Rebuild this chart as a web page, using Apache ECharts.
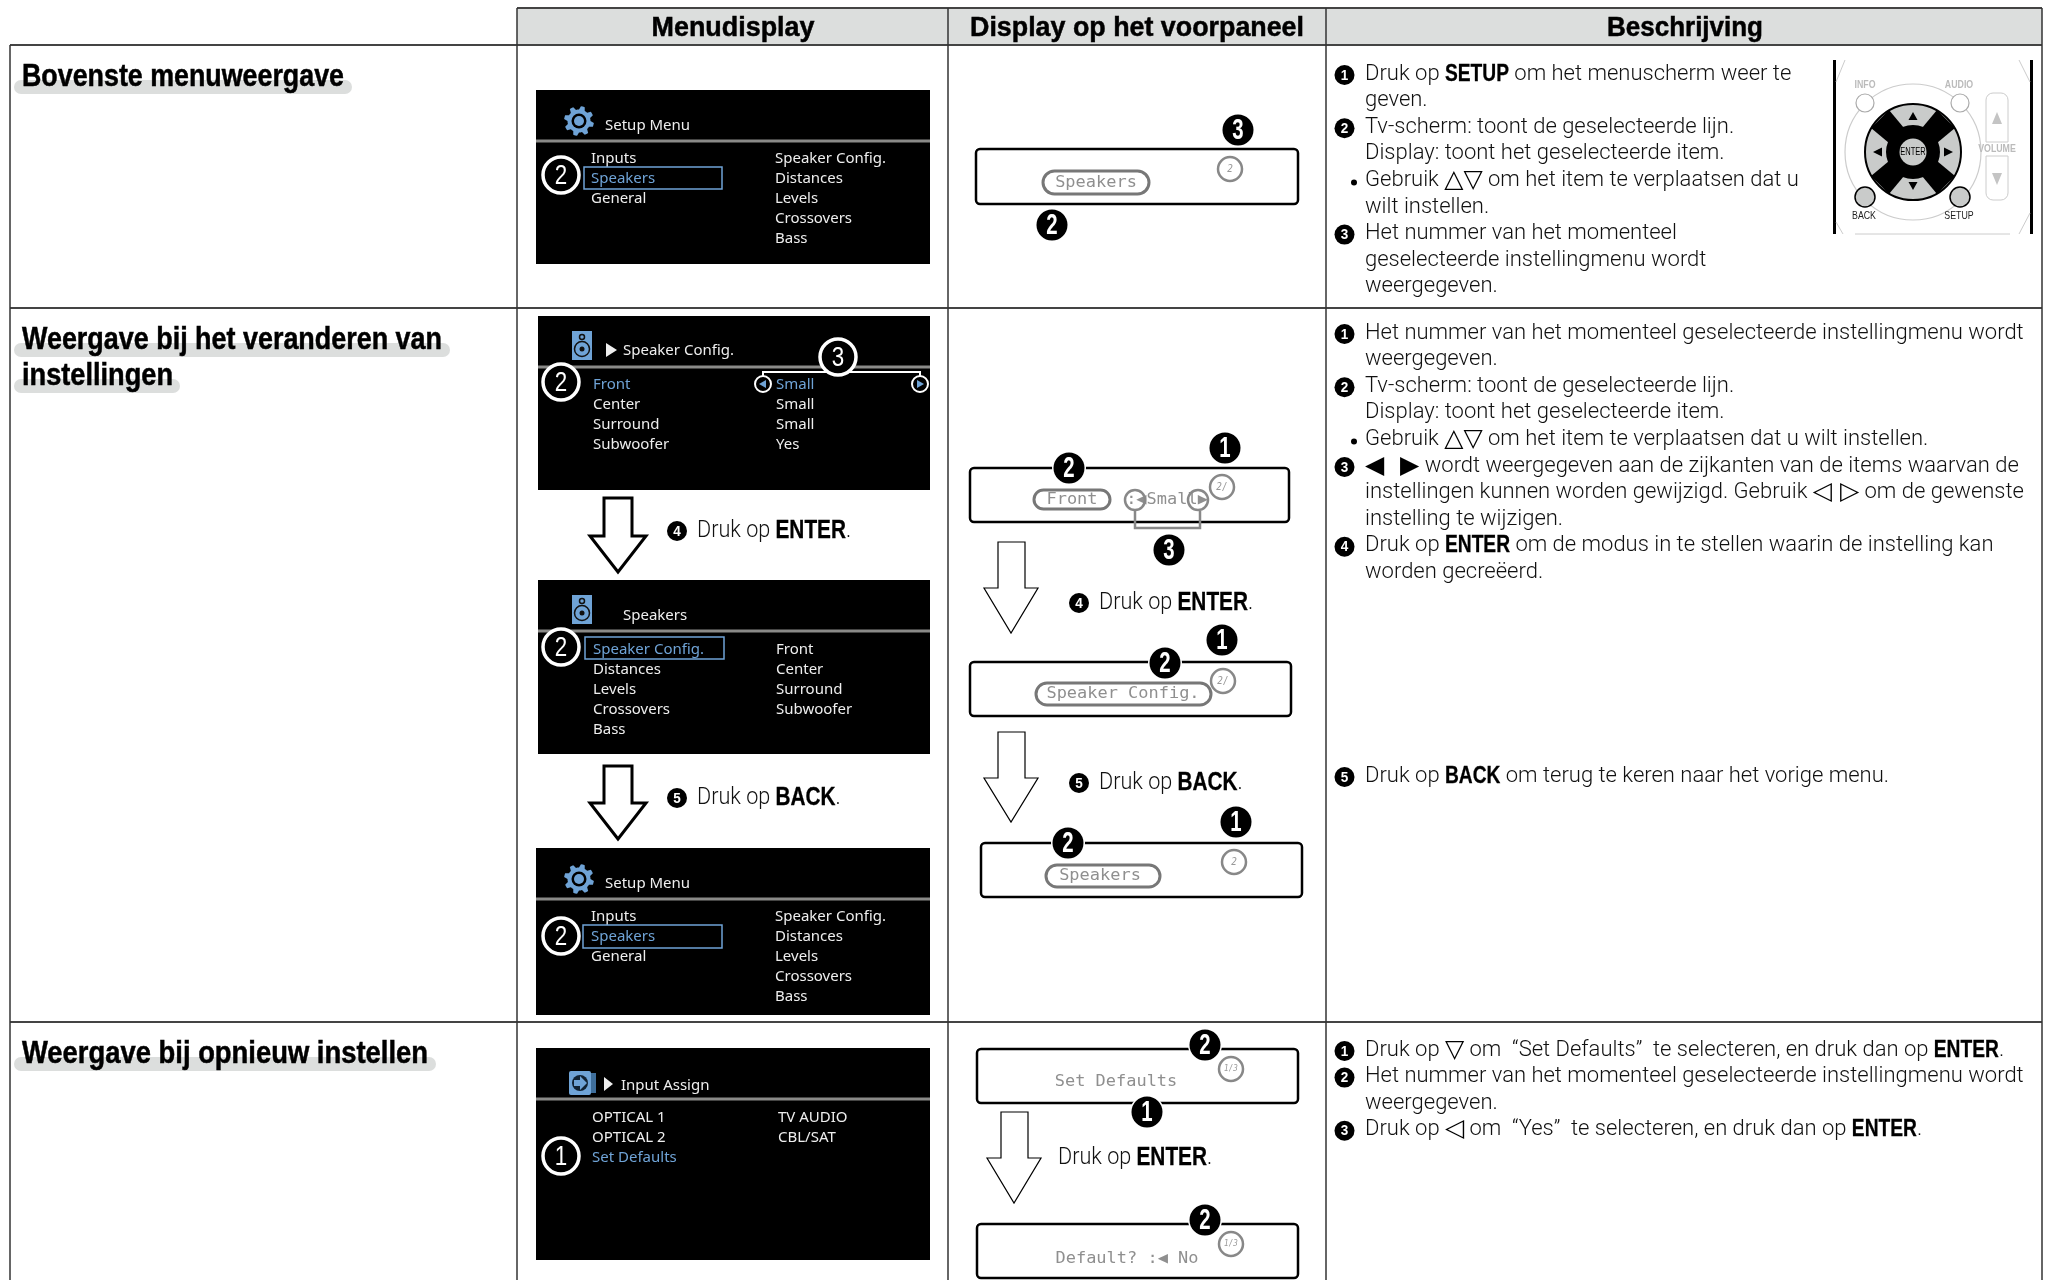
<!DOCTYPE html>
<html>
<head>
<meta charset="utf-8">
<style>html,body{margin:0;padding:0;background:#fff}#main{width:2051px;height:1280px}</style>
<script src="https://cdn.jsdelivr.net/npm/echarts@6/dist/echarts.min.js"></script>
</head>
<body>
<div id="main"></div>
<script>
// tekst van de tabel
var headers = ['Menudisplay', 'Display op het voorpaneel', 'Beschrijving'];
var rowTitle1 = ['Bovenste menuweergave'];
var rowTitle2 = ['Weergave bij het veranderen van', 'instellingen'];
var rowTitle3 = ['Weergave bij opnieuw instellen'];

var desc1 = [
	[1, 'Druk op {b|SETUP} om het menuscherm weer te'],
	[0, 'geven.'],
	[2, 'Tv-scherm: toont de geselecteerde lijn.'],
	[0, 'Display: toont het geselecteerde item.'],
	['•', 'Gebruik {s|△▽} om het item te verplaatsen dat u'],
	[0, 'wilt instellen.'],
	[3, 'Het nummer van het momenteel'],
	[0, 'geselecteerde instellingmenu wordt'],
	[0, 'weergegeven.']
];
var desc2 = [
	[1, 'Het nummer van het momenteel geselecteerde instellingmenu wordt'],
	[0, 'weergegeven.'],
	[2, 'Tv-scherm: toont de geselecteerde lijn.'],
	[0, 'Display: toont het geselecteerde item.'],
	['•', 'Gebruik {s|△▽} om het item te verplaatsen dat u wilt instellen.'],
	[3, '{s|◀  ▶} wordt weergegeven aan de zijkanten van de items waarvan de'],
	[0, 'instellingen kunnen worden gewijzigd. Gebruik {s|◁ ▷} om de gewenste'],
	[0, 'instelling te wijzigen.'],
	[4, 'Druk op {b|ENTER} om de modus in te stellen waarin de instelling kan'],
	[0, 'worden gecreëerd.']
];
var desc2b = [[5, 'Druk op {b|BACK} om terug te keren naar het vorige menu.']];
var desc3 = [
	[1, 'Druk op {s|▽} om  “Set Defaults”  te selecteren, en druk dan op {b|ENTER}.'],
	[2, 'Het nummer van het momenteel geselecteerde instellingmenu wordt'],
	[0, 'weergegeven.'],
	[3, 'Druk op {s|◁} om  “Yes”  te selecteren, en druk dan op {b|ENTER}.']
];

var setupLeft = ['Inputs', 'Speakers', 'General'];
var setupRight = ['Speaker Config.', 'Distances', 'Levels', 'Crossovers', 'Bass'];
var configLeft = ['Front', 'Center', 'Surround', 'Subwoofer'];
var configRight = ['Small', 'Small', 'Small', 'Yes'];
var speakersLeft = ['Speaker Config.', 'Distances', 'Levels', 'Crossovers', 'Bass'];
var speakersRight = ['Front', 'Center', 'Surround', 'Subwoofer'];
var assignLeft = ['OPTICAL 1', 'OPTICAL 2', 'Set Defaults'];
var assignRight = ['TV AUDIO', 'CBL/SAT'];

var BLUE = '#6fa3d6';
var BODY = 'Roboto';
var SANS = 'Liberation Sans';
var els = [];
var ctx = document.createElement('canvas').getContext('2d');

function measure(s, weight, size, font) {
	ctx.font = weight + ' ' + size + 'px "' + font + '"';
	return ctx.measureText(s).width;
}
function txt(x, y, s, o) {
	o = o || {};
	els.push({
		type: 'text', x: x, y: y, scaleX: o.sx || 1,
		style: {
			text: s,
			fontFamily: o.font || BODY, fontSize: o.size || 22, fontWeight: o.weight || 'normal',
			fontStyle: o.style || 'normal',
			fill: o.color || '#000', align: o.align || 'left', verticalAlign: 'middle',
			stroke: o.stroke || 'none', lineWidth: o.lw || 0
		}
	});
}
function rect(x0, y0, x1, y1, fill, stroke, lw, r) {
	els.push({
		type: 'rect', shape: { x: x0, y: y0, width: x1 - x0, height: y1 - y0, r: r || 0 },
		style: { fill: fill || 'none', stroke: stroke || 'none', lineWidth: lw || 1 }
	});
}
function circ(x, y, r, fill, stroke, lw) {
	els.push({
		type: 'circle', shape: { cx: x, cy: y, r: r },
		style: { fill: fill || 'none', stroke: stroke || 'none', lineWidth: lw || 1 }
	});
}
function line(pts, stroke, lw) {
	els.push({ type: 'polyline', shape: { points: pts }, style: { fill: 'none', stroke: stroke, lineWidth: lw } });
}
function poly(pts, fill, stroke, lw) {
	els.push({ type: 'polygon', shape: { points: pts }, style: { fill: fill, stroke: stroke || 'none', lineWidth: lw || 1 } });
}

// vette koppen, op breedte getrokken
function heavy(x, y, s, w, size, align) {
	txt(x, y, s, { font: SANS, size: size, weight: 'bold', align: align, sx: w / measure(s, 'bold', size, SANS), stroke: '#000', lw: 0.5 });
}
function title(lines, y, widths, bars) {
	lines.forEach(function (s, i) {
		var cy = y + i * 36;
		rect(14, cy + 3, bars[i], cy + 17, '#dcdedd', null, 0, 7);
		heavy(22, cy, s, widths[i], 31);
	});
}

function badge(x, y, n) {
	circ(x, y, 17, '#fff');
	circ(x, y, 15.5, '#000');
	txt(x, y + 1, String(n), { font: SANS, size: 30, weight: 'bold', color: '#fff', align: 'center', sx: 0.68 });
}
function smallBadge(x, y, n) {
	circ(x, y, 10, '#000');
	txt(x, y + 0.5, String(n), { font: SANS, size: 15, weight: 'bold', color: '#fff', align: 'center', sx: 0.9 });
}
function ring(x, y, n) {
	circ(x, y, 18, '#000', '#fff', 3.5);
	txt(x, y + 1, String(n), { font: SANS, size: 28, color: '#fff', align: 'center', sx: 0.8 });
}

// regel met lichte tekst, vette woorden en symbolen naast elkaar
function runs(x, y, str, size, sx) {
	str.split(/(\{[bs]\|[^}]*\})/).forEach(function (part) {
		if (!part) return;
		var m = part.match(/^\{([bs])\|(.*)\}$/);
		if (m && m[1] === 'b') {
			var bs = size + 2, bw = measure(m[2], 'bold', bs, SANS) * 0.8;
			txt(x, y, m[2], { font: SANS, size: bs, weight: 'bold', sx: 0.8, stroke: '#000', lw: 0.3 });
			x += bw;
		} else if (m) {
			var ss = size + 3, sw = measure(m[2], 'normal', ss, 'DejaVu Sans');
			txt(x, y, m[2], { font: 'DejaVu Sans', size: ss, color: '#000' });
			x += sw;
		} else {
			txt(x, y, part, { weight: 300, size: size, color: '#111', sx: sx });
			x += measure(part, '300', size, BODY) * sx;
		}
	});
}
function desc(lines, y0) {
	lines.forEach(function (l, i) {
		var y = y0 + i * 26.6;
		if (l[0] === '•') circ(1354, y + 2, 3, '#000');
		else if (l[0]) smallBadge(1344.5, y + 1, l[0]);
		runs(1365, y, l[1], 22, 1.0);
	});
}
function pressLine(x, y, n, key) {
	if (n) smallBadge(x - 20, y, n);
	runs(x, y, 'Druk op {b|' + key + '}.', 24, 0.9);
}

function gear(x, y) {
	var pts = [];
	for (var i = 0; i < 48; i++) {
		var a = i / 48 * Math.PI * 2;
		var r = (i % 6 < 3) ? 15 : 11.5;
		pts.push([x + r * Math.cos(a + 0.13), y + r * Math.sin(a + 0.13)]);
	}
	poly(pts, BLUE);
	circ(x, y, 7.5, '#000');
	circ(x, y, 5, BLUE);
}
function speakerIcon(x, y) {
	rect(x, y, x + 20, y + 29, BLUE);
	circ(x + 10, y + 6, 2.5, BLUE, '#111', 1.5);
	circ(x + 10, y + 18, 7.5, BLUE, '#111', 1.5);
	circ(x + 10, y + 18, 2.5, '#111');
}
function inputIcon(x, y) {
	rect(x + 20, y + 2, x + 27, y + 22, '#3f6f9c');
	rect(x, y, x + 22, y + 24, BLUE, null, 0, 2);
	circ(x + 11, y + 12, 8, '#123');
	poly([[x + 5, y + 9], [x + 11, y + 9], [x + 11, y + 5], [x + 18, y + 12], [x + 11, y + 19], [x + 11, y + 15], [x + 5, y + 15]], BLUE);
}
function menuText(x, y, s, blue) {
	txt(x, y + 1, s, { font: 'Noto Sans', size: 15, color: blue ? BLUE : '#eee' });
}
function screen(x0, y0, y1, lineY, leftX, rightX, rowY, left, right, sel) {
	rect(x0, y0, 930, y1, '#000');
	rect(x0, lineY - 1.5, 930, lineY + 1.5, '#8a8a88');
	left.forEach(function (s, i) { menuText(leftX, rowY + i * 20, s, i === sel); });
	right.forEach(function (s, i) { menuText(rightX, rowY + i * 20, s); });
}

function panel(x0, y0, x1, y1) {
	rect(x0, y0, x1, y1, '#fff', '#000', 2.5, 4);
}
function pill(x0, y0, x1, y1) {
	rect(x0, y0, x1, y1, '#fff', '#777', 3, (y1 - y0) / 2);
}
function dots(x, y, s) {
	txt(x, y, s, { font: 'DejaVu Sans Mono', size: 16, color: '#8f8f8f', align: 'center', sx: 1.06 });
}
function num(x, y, s) {
	circ(x, y, 12, '#fff', '#888', 2.5);
	txt(x, y, s, { font: 'DejaVu Sans Mono', size: s.length > 2 ? 9 : 11, style: 'italic', color: '#999', align: 'center', sx: 0.85 });
}
function bigArrow(yTop, yShoulder, yTip) {
	poly([[604, yTop], [632, yTop], [632, yShoulder], [646, yShoulder], [618, yTip], [590, yShoulder], [604, yShoulder]], '#fff', '#000', 3);
}
function thinArrow(dx, yTop, yShoulder, yTip) {
	poly([[998 + dx, yTop], [1025 + dx, yTop], [1025 + dx, yShoulder], [1038 + dx, yShoulder], [1011 + dx, yTip], [984 + dx, yShoulder], [998 + dx, yShoulder]], '#fff', '#000', 1.2);
}

function remote() {
	var gray = '#c9cbca';
	rect(1833, 60, 1836, 234, '#000');
	rect(2030, 60, 2033, 234, '#000');
	line([[1845, 60], [1836, 82]], '#ccc', 1);
	line([[2019, 60], [2030, 82]], '#ccc', 1);
	line([[1836, 222], [1843, 234]], '#ccc', 1);
	line([[2030, 213], [2019, 234]], '#ccc', 1);
	line([[1855, 234], [2010, 234]], '#ccc', 1);
	circ(1913, 152, 68, '#fff', '#ccc', 1.2);
	circ(1865, 103, 9, '#fff', '#aaa', 1.2);
	circ(1960, 103, 9, '#fff', '#aaa', 1.2);
	txt(1865, 85, 'INFO', { font: SANS, size: 11, weight: 'bold', color: '#bbb', align: 'center', sx: 0.8 });
	txt(1959, 85, 'AUDIO', { font: SANS, size: 11, weight: 'bold', color: '#bbb', align: 'center', sx: 0.8 });
	txt(1864, 216, 'BACK', { font: SANS, size: 11, color: '#222', align: 'center', sx: 0.8 });
	txt(1959, 216, 'SETUP', { font: SANS, size: 11, color: '#222', align: 'center', sx: 0.8 });
	rect(1986, 93, 2008, 142, '#fff', '#ccc', 1, [7, 7, 0, 0]);
	rect(1986, 156, 2008, 200, '#fff', '#ccc', 1, [0, 0, 7, 7]);
	txt(1997, 149, 'VOLUME', { font: SANS, size: 11, weight: 'bold', color: '#bbb', align: 'center', sx: 0.8 });
	poly([[1997, 112], [2002, 124], [1992, 124]], '#c4c4c4');
	poly([[1997, 185], [2002, 173], [1992, 173]], '#c4c4c4');
	circ(1913, 152, 48, gray, '#000', 2);
	// zwart kruis tussen de pijltoetsen
	[[1, 1], [1, -1], [-1, 1], [-1, -1]].forEach(function (d) {
		var cx = 1913, cy = 152;
		poly([
			[cx + d[0] * 9, cy + d[1] * 24], [cx + d[0] * 24, cy + d[1] * 42],
			[cx + d[0] * 42, cy + d[1] * 24], [cx + d[0] * 24, cy + d[1] * 9]
		], '#000');
	});
	circ(1913, 152, 27, '#000');
	circ(1913, 152, 13.5, gray);
	txt(1913, 152, 'ENTER', { font: SANS, size: 10, color: '#000', align: 'center', sx: 0.75 });
	poly([[1913, 112], [1917.5, 120], [1908.5, 120]], '#000');
	poly([[1913, 190], [1917.5, 182], [1908.5, 182]], '#000');
	poly([[1873, 152], [1882, 147.5], [1882, 156.5]], '#000');
	poly([[1953, 152], [1944, 147.5], [1944, 156.5]], '#000');
	circ(1865, 197, 10, gray, '#000', 1.5);
	circ(1960, 197, 10, gray, '#000', 1.5);
}

// tabel
rect(517, 8, 2042, 45, '#dcdedd');
[[517, 8, 2042, 8], [10, 45, 2042, 45], [10, 308, 2042, 308], [10, 1022, 2042, 1022]].forEach(function (l) {
	line([[l[0], l[1]], [l[2], l[3]]], '#444', 2);
});
[[10, 45], [517, 8], [948, 8], [1326, 8], [2042, 8]].forEach(function (l) {
	line([[l[0], l[1]], [l[0], 1280]], '#333', 1.5);
});
heavy(733, 28, headers[0], 163, 28, 'center');
heavy(1137, 28, headers[1], 334, 28, 'center');
heavy(1685, 28, headers[2], 156, 28, 'center');

title(rowTitle1, 77, [322], [352]);
title(rowTitle2, 340, [420, 151], [450, 180]);
title(rowTitle3, 1054, [406], [436]);

// menuschermen
screen(536, 90, 264, 141, 591, 775, 158, setupLeft, setupRight, 1);
gear(579, 121);
menuText(605, 125, 'Setup Menu');
rect(584, 167, 722, 189, null, BLUE, 1.5);
ring(561, 175, 2);

screen(538, 316, 490, 367, 593, 776, 384, configLeft, configRight, 0);
speakerIcon(572, 331);
poly([[606, 343], [617, 350], [606, 357]], '#eee');
menuText(623, 350, 'Speaker Config.');
rect(770, 376, 830, 392, '#000');
menuText(776, 384, configRight[0], true);
line([[763, 378], [763, 372], [920, 372], [920, 378]], '#fff', 2);
circ(763, 384, 8, '#000', '#fff', 2);
poly([[759, 384], [766, 380], [766, 388]], BLUE);
circ(920, 384, 8, '#000', '#fff', 2);
poly([[924, 384], [917, 380], [917, 388]], BLUE);
ring(561, 382, 2);
ring(838, 357, 3);

screen(538, 580, 754, 631, 593, 776, 649, speakersLeft, speakersRight, 0);
speakerIcon(572, 595);
menuText(623, 615, 'Speakers');
rect(585, 637, 724, 659, null, BLUE, 1.5);
ring(561, 647, 2);

screen(536, 848, 1015, 899, 591, 775, 916, setupLeft, setupRight, 1);
gear(579, 879);
menuText(605, 883, 'Setup Menu');
rect(583, 925, 722, 948, null, BLUE, 1.5);
ring(561, 936, 2);

screen(536, 1048, 1260, 1099, 592, 778, 1117, assignLeft, assignRight, 2);
inputIcon(569, 1071);
poly([[604, 1077], [613, 1084], [604, 1091]], '#eee');
menuText(621, 1085, 'Input Assign');
ring(561, 1156, 1);

bigArrow(498, 536, 572);
pressLine(697, 531, 4, 'ENTER');
bigArrow(766, 803, 839);
pressLine(697, 798, 5, 'BACK');

// voorpaneel
panel(976, 149, 1298, 204);
pill(1043, 171, 1149, 194);
dots(1096, 183, 'Speakers');
num(1230, 169, '2');
badge(1238, 130, 3);
badge(1052, 225, 2);

panel(970, 468, 1289, 522);
pill(1034, 490, 1110, 509);
dots(1072, 500, 'Front');
dots(1167, 500, ':◀Small▶');
circ(1135, 500, 10, null, '#888', 2.5);
circ(1198, 500, 10, null, '#888', 2.5);
line([[1135, 511], [1135, 528], [1200, 528], [1200, 511]], '#888', 2.5);
num(1222, 487, '2/');
badge(1069, 468, 2);
badge(1225, 448, 1);
badge(1169, 550, 3);

thinArrow(0, 542, 588, 633);
pressLine(1099, 603, 4, 'ENTER');

panel(970, 662, 1291, 716);
pill(1036, 683, 1211, 705);
dots(1123, 694, 'Speaker Config.');
num(1223, 681, '2/');
badge(1165, 663, 2);
badge(1222, 640, 1);

thinArrow(0, 732, 778, 822);
pressLine(1099, 783, 5, 'BACK');

panel(981, 843, 1302, 897);
pill(1046, 865, 1160, 887);
dots(1100, 876, 'Speakers');
num(1234, 862, '2');
badge(1068, 843, 2);
badge(1236, 822, 1);

panel(977, 1049, 1298, 1103);
dots(1116, 1082, 'Set Defaults');
num(1231, 1069, '1/3');
badge(1205, 1045, 2);
badge(1147, 1112, 1);
thinArrow(3, 1112, 1158, 1203);
pressLine(1058, 1158, 0, 'ENTER');

panel(977, 1224, 1298, 1278);
dots(1127, 1259, 'Default? :◀ No');
num(1231, 1244, '1/3');
badge(1205, 1220, 2);

// beschrijving
remote();
desc(desc1, 74);
desc(desc2, 333);
desc(desc2b, 776);
desc(desc3, 1050);

var myChart = echarts.init(document.getElementById('main'), null, { renderer: 'canvas' });
myChart.setOption({
	backgroundColor: '#fff',
	animation: false,
	graphic: { elements: els }
});
</script>
</body>
</html>
